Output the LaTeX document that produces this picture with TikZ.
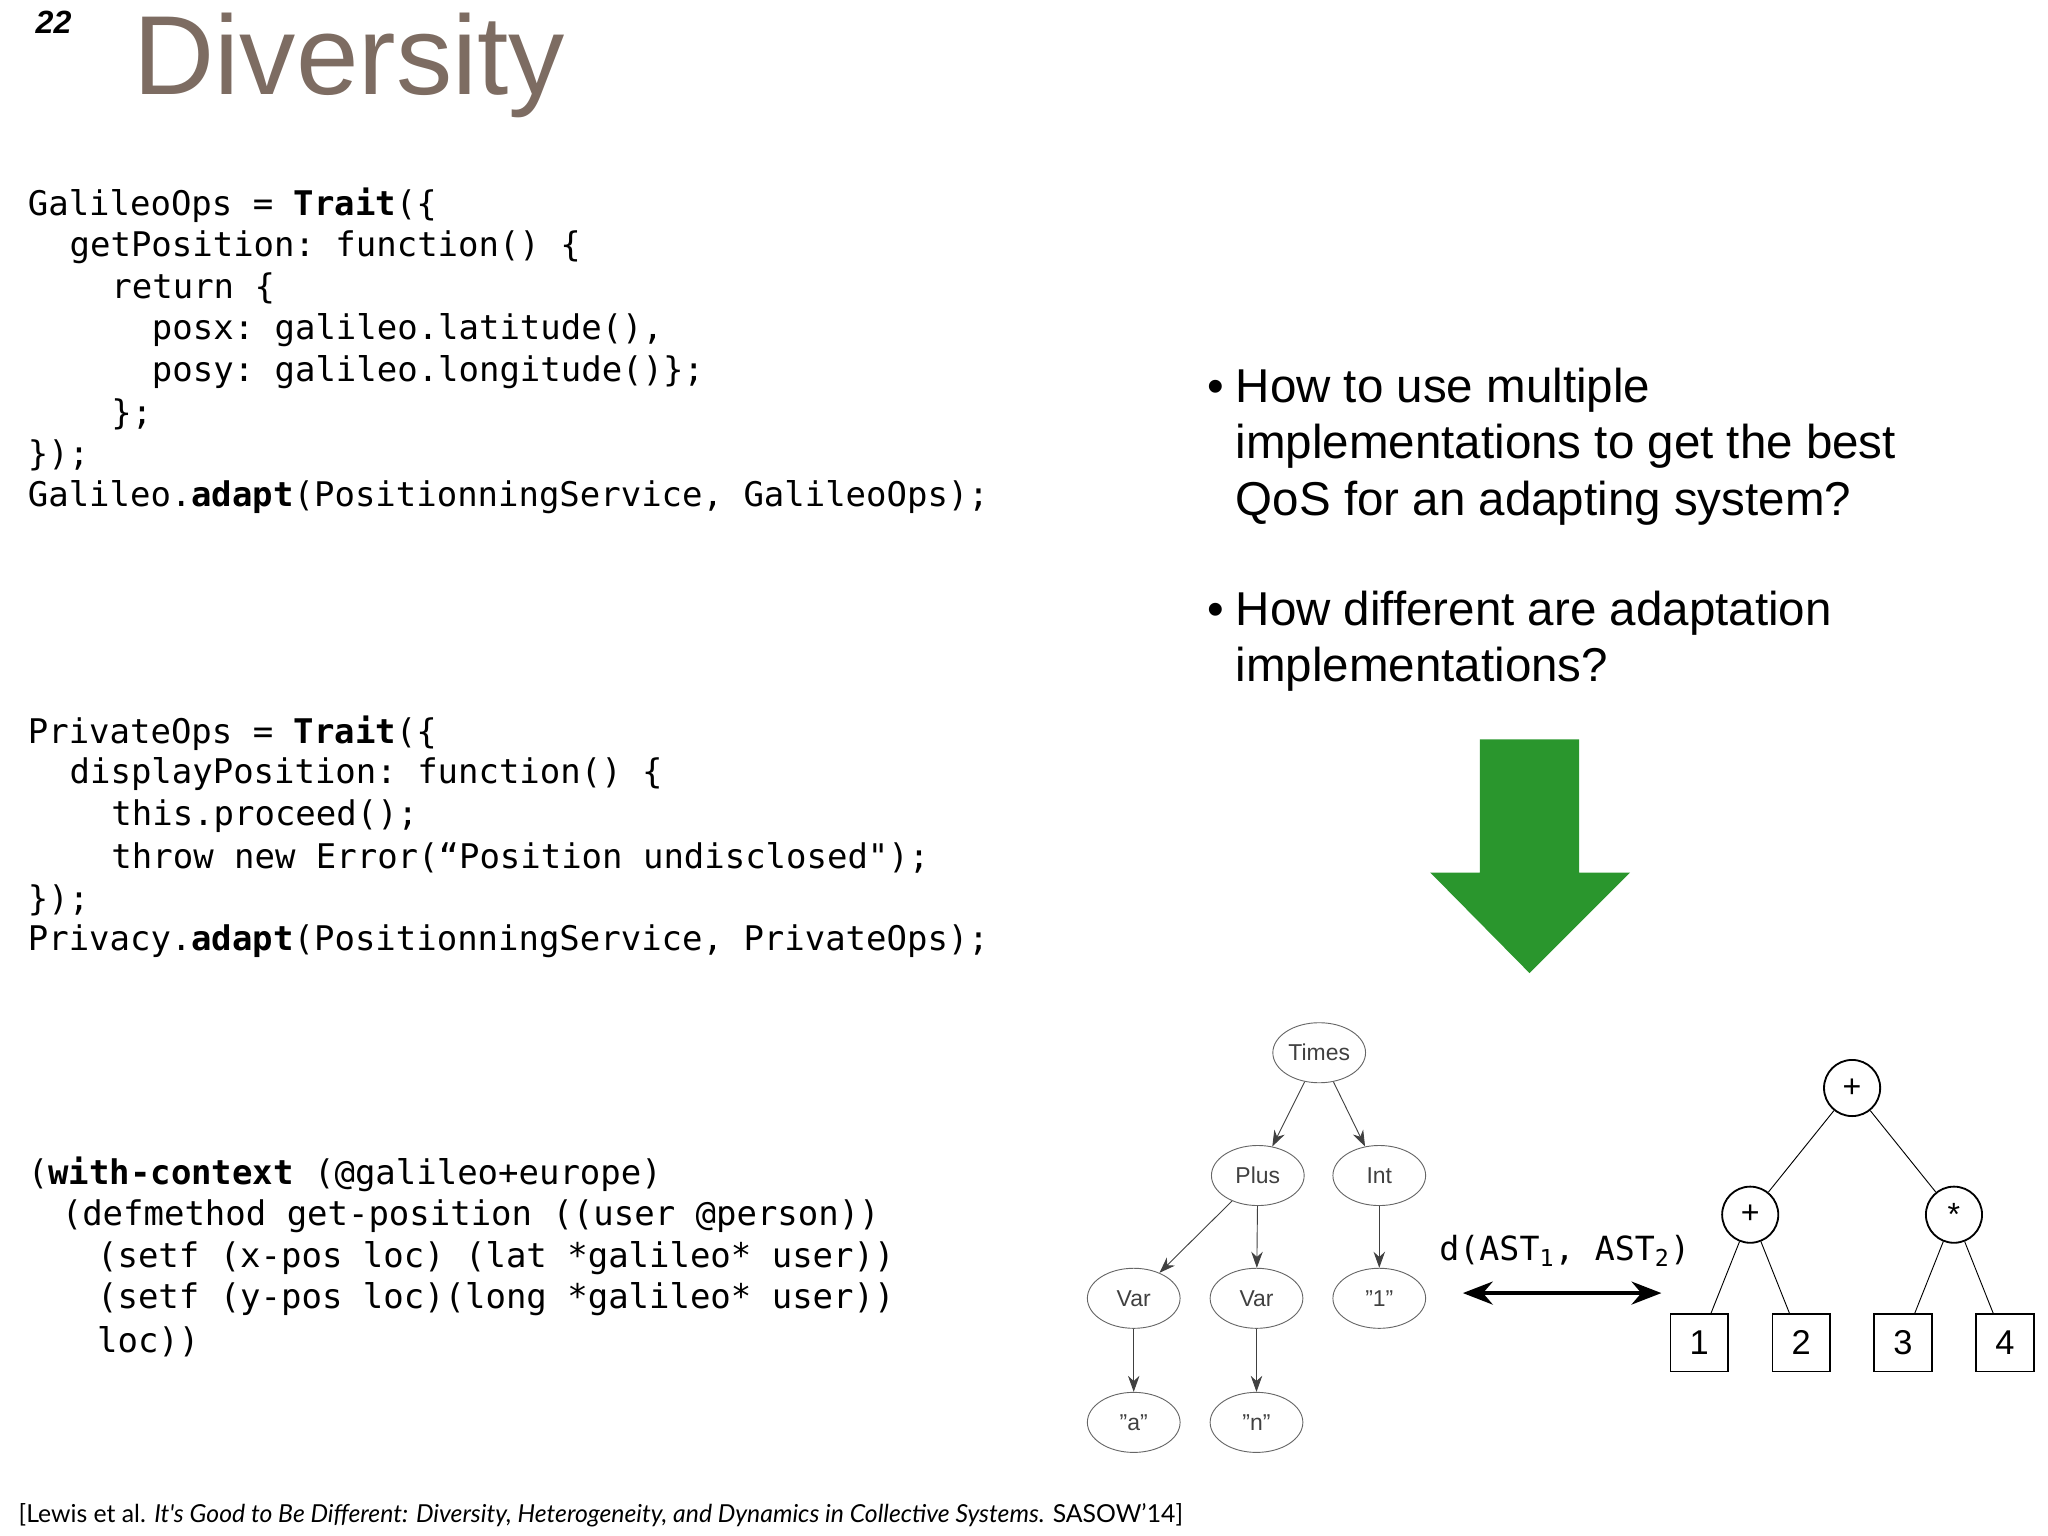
\documentclass[tikz,border=0pt]{standalone}
\usepackage{fontspec}
\setmainfont{Liberation Sans}
\setmonofont{DejaVu Sans Mono}
\newfontfamily\lato{Lato}
\usetikzlibrary{shapes.geometric,arrows.meta}
\definecolor{titlec}{RGB}{125,108,98}
\definecolor{arrg}{RGB}{42,150,45}
\newcommand{\dq}{\symbol{34}}
\begin{document}
\begin{tikzpicture}[x=0.02cm,y=-0.02cm,
  code/.style={anchor=west,inner sep=0,font=\fontsize{14.8}{16}\ttfamily},
  el/.style={ellipse,draw=black!60,minimum width=1.42cm,minimum height=0.92cm,inner sep=0,font=\fontsize{10}{12}\selectfont\color{black!75}},
  ed/.style={-{Stealth[length=7pt,width=5pt]},black!75},
  cn/.style={circle,draw,thick,minimum size=0.86cm,inner sep=0,font=\fontsize{14}{16}\selectfont},
  bx/.style={rectangle,draw,thick,minimum size=0.88cm,inner sep=0,font=\fontsize{15}{16}\selectfont},
  bl/.style={anchor=west,inner sep=0,font=\fontsize{20.7}{24.5}\selectfont,align=left}]
\useasboundingbox (0,0) rectangle (1568,1176);
\node[anchor=west,inner sep=0,font=\fontsize{14}{16}\bfseries\itshape] (n22) at (27,17) {22};
\node[anchor=west,inner sep=0,font=\fontsize{49}{52}\selectfont,text=titlec] (title) at (102,50) {Diversity};
% code block 1
\node[code] (c1) at (21,157) {GalileoOps = \textbf{Trait}(\{};
\node[code] (c2) at (53,189) {getPosition: function() \{};
\node[code] (c3) at (85,221) {return \{};
\node[code] (c4) at (116,253) {posx: galileo.latitude(),};
\node[code] (c5) at (116,285) {posy: galileo.longitude()\};};
\node[code] (c6) at (85,317) {\};};
\node[code] (c7) at (21,349) {\});};
\node[code] (c8) at (21,381) {Galileo.\textbf{adapt}(PositionningService, GalileoOps);};
% code block 2
\node[code] (d1) at (21,561) {PrivateOps = \textbf{Trait}(\{};
\node[code] (d2) at (53,593) {displayPosition: function() \{};
\node[code] (d3) at (85,625) {this.proceed();};
\node[code] (d4) at (85,657) {throw new Error(“Position undisclosed");};
\node[code] (d5) at (21,689) {\});};
\node[code] (d6) at (21,721) {Privacy.\textbf{adapt}(PositionningService, PrivateOps);};
% code block 3
\node[code] (e1) at (21,899) {(\textbf{with-context} (@galileo+europe)};
\node[code] (e2) at (47,931) {(defmethod get-position ((user @person))};
\node[code] (e3) at (74,963) {(setf (x-pos loc) (lat *galileo* user))};
\node[code] (e4) at (74,995) {(setf (y-pos loc)(long *galileo* user))};
\node[code] (e5) at (74,1027) {loc))};
% bullets
\node[bl] (b1) at (924,342) {•\hspace{0.25em}\parbox[t]{12.5cm}{How to use multiple\\implementations to get the best\\QoS for an adapting system?}};
\node[bl,anchor=north west] (b2) at (924,452) {•\hspace{0.25em}\parbox[t]{12.5cm}{How different are adaptation\\implementations?}};
% green arrow
\fill[arrg] (1133,566) -- (1209,566) -- (1209,668) -- (1248,668) -- (1171,745) -- (1095,668) -- (1133,668) -- cycle;
% tree 1
\node[el] (times) at (1010,806) {Times};
\node[el] (plus) at (963,900) {Plus};
\node[el] (int) at (1056,900) {Int};
\node[el] (var1) at (868,994) {Var};
\node[el] (var2) at (962,994) {Var};
\node[el] (one) at (1056,994) {\dq1\dq};
\node[el] (a) at (868,1089) {\dq a\dq};
\node[el] (n) at (962,1089) {\dq n\dq};
\draw[ed] (times) -- (plus);
\draw[ed] (times) -- (int);
\draw[ed] (plus) -- (var1);
\draw[ed] (plus) -- (var2);
\draw[ed] (int) -- (one);
\draw[ed] (var1) -- (a);
\draw[ed] (var2) -- (n);
% distance
\coordinate (dl) at (1120,990);
\coordinate (dr) at (1272,990);
\draw[line width=1.6pt,{Stealth[length=13pt,width=10pt]}-{Stealth[length=13pt,width=10pt]}] (dl) -- (dr);
\node[inner sep=0,font=\fontsize{14.5}{16}\ttfamily] (dlab) at (1198,958) {d(AST\textsubscript{1}, AST\textsubscript{2})};
% tree 2
\node[cn] (p0) at (1418,833) {+};
\node[cn] (p1) at (1340,930) {+};
\node[cn] (m1) at (1496,930) {*};
\node[bx] (k1) at (1301,1028) {1};
\node[bx] (k2) at (1379,1028) {2};
\node[bx] (k3) at (1457,1028) {3};
\node[bx] (k4) at (1535,1028) {4};
\draw (p0) -- (p1); \draw (p0) -- (m1);
\draw (p1) -- (k1); \draw (p1) -- (k2);
\draw (m1) -- (k3); \draw (m1) -- (k4);
% citation
\node[anchor=west,inner sep=0,font=\lato\fontsize{10.8}{13}\selectfont] (cit) at (14,1160) {[Lewis et al. \textit{It's Good to Be Different: Diversity, Heterogeneity, and Dynamics in Collective Systems}. SASOW’14]};
\end{tikzpicture}
\end{document}
